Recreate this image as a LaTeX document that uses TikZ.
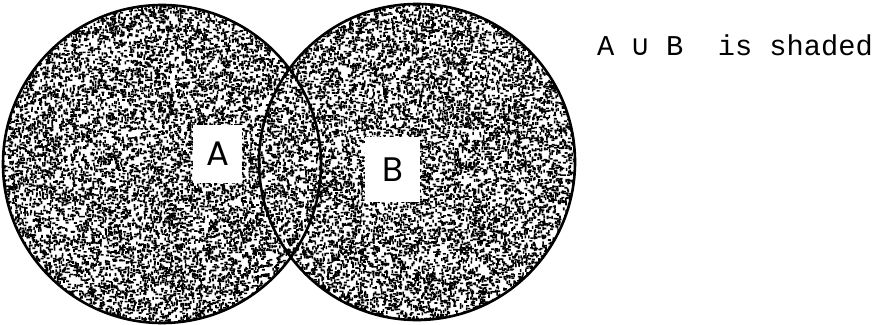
\documentclass[tikz,border=0pt]{standalone}
\usepackage{fontspec}
\setmainfont{Liberation Serif}
\newfontfamily\labelfont{Poppins}
\newfontfamily\typefont{Liberation Mono}
\newfontfamily\symfont{DejaVu Sans Mono}
\newcount\speckn
\newdimen\spx
\newdimen\spy
\newcommand\specklefield[1]{%
  \speckn=0
  \loop
    \pgfmathrnd\let\ux\pgfmathresult
    \pgfmathrnd\let\uy\pgfmathresult
    \spx=\ux\dimexpr580pt\relax
    \spy=-\uy\dimexpr326pt\relax
    \ifodd\speckn
      \pgfpathrectangle{\pgfqpoint{\spx}{\spy}}{\pgfqpoint{1.6pt}{3pt}}%
    \else
      \pgfpathrectangle{\pgfqpoint{\spx}{\spy}}{\pgfqpoint{3pt}{1.6pt}}%
    \fi
    \advance\speckn by 1
    \ifnum\numexpr(\speckn/400)*400\relax=\speckn \pgfusepath{fill}\fi
  \ifnum\speckn<#1 \repeat
  \pgfusepath{fill}%
}
\begin{document}
\begin{tikzpicture}[x=1pt,y=-1pt,
  ring/.style={line width=2.6pt, draw=black},
  setlabel/.style={fill=white, inner sep=0pt, font=\labelfont\fontsize{34}{34}\selectfont},
  caption/.style={anchor=base west, inner sep=0pt, font=\typefont\fontsize{28.7}{28.7}\selectfont}]
\useasboundingbox (0,0) rectangle (880,324);
\coordinate (cA) at (162,164);
\coordinate (cB) at (417,162);
% shaded union
\begin{scope}
  \clip (cA) circle (159) (cB) circle (158);
  \pgfmathsetseed{12345}
  \pgfsetfillcolor{black}
  \specklefield{22000}
\end{scope}
\draw[ring] (cA) circle (159);
\draw[ring] (cB) circle (158);
% labels
\node[setlabel, minimum width=49pt, minimum height=58pt] (A) at (217.5,154) {A};
\node[setlabel, minimum width=55pt, minimum height=65pt] (B) at (392.5,169.5) {B};
\node[caption] (cap) at (597,55) {A {\symfont\char"222A} B\ \ is shaded};
\end{tikzpicture}
\end{document}
